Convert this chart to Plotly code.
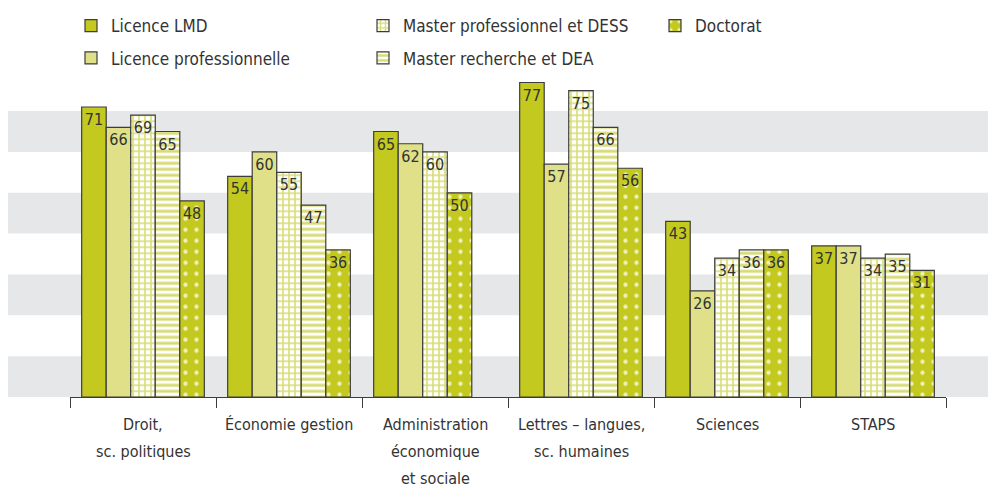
import plotly.graph_objects as go

categories = ["Droit, sc. politiques", "Économie gestion",
              "Administration économique et sociale",
              "Lettres – langues, sc. humaines", "Sciences", "STAPS"]
cat_labels = [["Droit,", "sc. politiques"], ["Économie gestion"],
              ["Administration", "économique", "et sociale"],
              ["Lettres – langues,", "sc. humaines"], ["Sciences"], ["STAPS"]]

series_names = ["Licence LMD", "Licence professionnelle",
                "Master professionnel et DESS", "Master recherche et DEA", "Doctorat"]
licence_lmd = [71, 54, 65, 77, 43, 37]
licence_pro = [66, 60, 62, 57, 26, 37]
master_pro = [69, 55, 60, 75, 34, 34]
master_rech = [65, 47, None, 66, 36, 35]
doctorat = [48, 36, 50, 56, 36, 31]
all_series = [licence_lmd, licence_pro, master_pro, master_rech, doctorat]

FONT = "DejaVu Sans Condensed, Roboto, sans-serif"
TXT = "#333333"
C_DARK = "#c4c920"
C_LIGHT = "#dfe088"
OUT = "#3c3c3c"

styles = [
    dict(color=C_DARK),
    dict(color=C_LIGHT),
    dict(color="white", pattern=dict(shape="+", fgcolor="#d8db74", bgcolor="white",
                                      size=6, solidity=0.45, fillmode="replace")),
    dict(color="white", pattern=dict(shape="-", fgcolor="#d8db74", bgcolor="white",
                                      size=6, solidity=0.5, fillmode="replace")),
    dict(color=C_DARK, pattern=dict(shape=".", fgcolor="#eef0b8", bgcolor=C_DARK,
                                     size=11, solidity=0.12, fillmode="replace")),
]
legend_ids = ["legend", "legend2", "legend", "legend2", "legend"]
legend_rank = [1, 1, 2, 2, 3]

bar_w = 0.168
start = -0.42

W, H = 988, 479
L, R, B = 62, 50, 90
PH = 331

fig = go.Figure()
for s, (name, vals) in enumerate(zip(series_names, all_series)):
    offsets = []
    for c in range(len(categories)):
        slot = sum(1 for k in range(s) if all_series[k][c] is not None)
        offsets.append(start + slot * bar_w)
    fig.add_trace(go.Bar(
        x=categories, y=vals, name=name,
        width=bar_w, offset=offsets,
        marker=dict(line=dict(color=OUT, width=1.2), **styles[s]),
        text=[("" if v is None else str(v)) for v in vals],
        textposition="inside", insidetextanchor="end", constraintext="none",
        textangle=0,
        textfont=dict(family=FONT, size=16, color=TXT),
        legend=legend_ids[s], legendrank=legend_rank[s],
        hoverinfo="skip",
    ))

paper_h = H - B
shapes = []
for lo in [0, 20, 40, 60]:
    shapes.append(dict(type="rect", xref="paper", yref="y", x0=0, x1=1,
                       y0=lo, y1=lo + 10, fillcolor="#e6e7e8", line=dict(width=0),
                       layer="below"))

annotations = []
for c, lines in enumerate(cat_labels):
    for i, ln in enumerate(lines):
        annotations.append(dict(x=categories[c], xref="x", yref="paper",
                                y=0, yshift=-27 - 27 * i, yanchor="middle",
                                text=ln, showarrow=False,
                                font=dict(family=FONT, size=16, color=TXT)))

leg_common = dict(orientation="h", xanchor="left", yanchor="middle",
                  entrywidth=247, font=dict(family=FONT, size=17, color=TXT),
                  bgcolor="rgba(0,0,0,0)", traceorder="normal")

fig.update_layout(
    width=W, height=H,
    margin=dict(l=0, r=0, t=0, b=B),
    paper_bgcolor="white", plot_bgcolor="rgba(0,0,0,0)",
    barmode="overlay",
    showlegend=True,
    legend=dict(x=63 / W, y=(paper_h - 13) / paper_h, **leg_common),
    legend2=dict(x=63 / W, y=(paper_h - 46) / paper_h, **leg_common),
    xaxis=dict(type="category", categoryarray=categories, showticklabels=False,
               domain=[L / W, (W - R) / W],
               showline=True, linecolor=OUT, linewidth=1.2,
               ticks="outside", tickson="boundaries", ticklen=10,
               tickcolor=OUT, tickwidth=1.2, showgrid=False, zeroline=False,
               range=[-0.5, 5.5], fixedrange=True),
    yaxis=dict(range=[0, 80], domain=[0, PH / paper_h], visible=False,
               showgrid=False, zeroline=False),
    shapes=shapes,
    annotations=annotations,
)

fig.write_html("out.html")
